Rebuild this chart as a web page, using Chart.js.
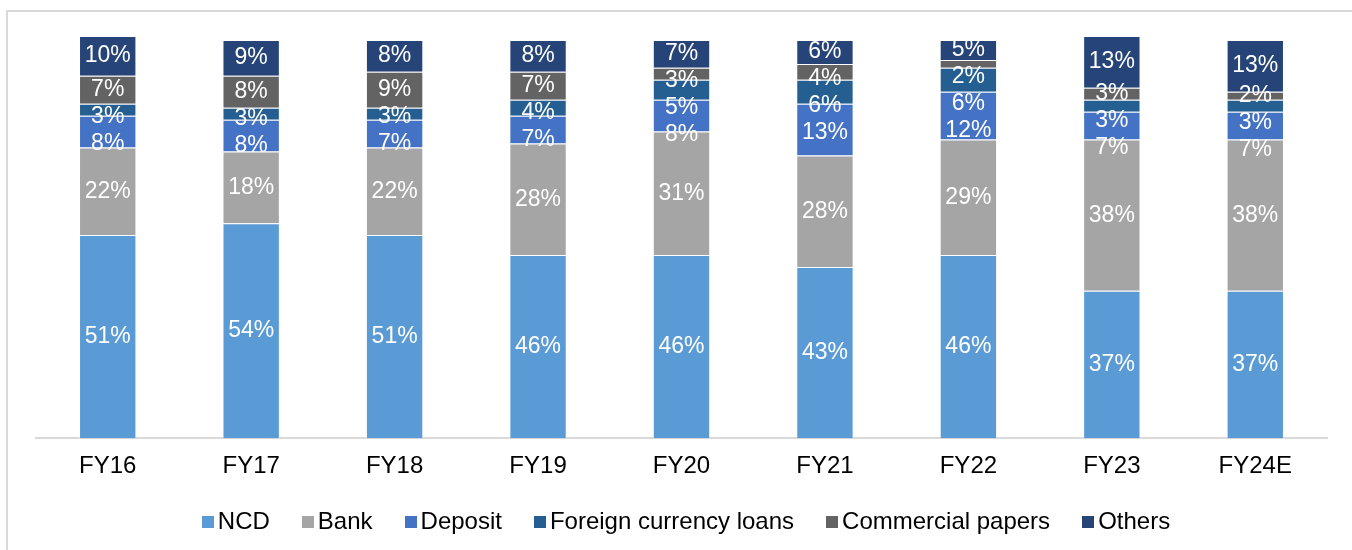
<!DOCTYPE html>
<html>
<head>
<meta charset="utf-8">
<script src="https://cdn.jsdelivr.net/npm/chart.js@4.4.1/dist/chart.umd.min.js"></script>
<style>
  html, body { margin: 0; padding: 0; background: #fff; }
  #wrap { position: relative; width: 1352px; height: 550px; overflow: hidden; }
  #frame { position: absolute; left: 6px; top: 10px; right: -4px; bottom: -4px;
           border-left: 2px solid #d9d9d9; border-top: 2px solid #d9d9d9; }
  #chart { position: absolute; left: 0; top: 0; }
  #legend { position: absolute; left: 20px; right: 0; top: 507px; text-align: center;
            font-family: "Liberation Sans", Arial, sans-serif; font-size: 24px; color: #000;
            white-space: nowrap; }
  #legend span.item { display: inline-block; margin: 0 16px; }
  #legend span.box { display: inline-block; width: 12px; height: 12px; margin-right: 4px;
                     vertical-align: 1px; }
</style>
</head>
<body>
<div id="wrap">
  <div id="frame"></div>
  <canvas id="chart" width="1352" height="550"></canvas>
  <div id="legend"></div>
</div>
<script>
// funding mix by year, share of borrowings (%)
const years = ['FY16', 'FY17', 'FY18', 'FY19', 'FY20', 'FY21', 'FY22', 'FY23', 'FY24E'];
const ncd = [51, 54, 51, 46, 46, 43, 46, 37, 37];
const bank = [22, 18, 22, 28, 31, 28, 29, 38, 38];
const deposit = [8, 8, 7, 7, 8, 13, 12, 7, 7];
const foreignLoans = [3, 3, 3, 4, 5, 6, 6, 3, 3];
const commercialPapers = [7, 8, 9, 7, 3, 4, 2, 3, 2];
const others = [10, 9, 8, 8, 7, 6, 5, 13, 13];

const series = [
  { label: 'NCD', data: ncd, color: '#5b9bd5' },
  { label: 'Bank', data: bank, color: '#a5a5a5' },
  { label: 'Deposit', data: deposit, color: '#4472c4' },
  { label: 'Foreign currency loans', data: foreignLoans, color: '#255e91' },
  { label: 'Commercial papers', data: commercialPapers, color: '#636363' },
  { label: 'Others', data: others, color: '#264478' }
];

const FONT = '"Liberation Sans", Arial, sans-serif';

// white percentage labels, centred in each segment and nudged down when they collide
const segmentLabels = {
  id: 'segmentLabels',
  afterDatasetsDraw(chart) {
    const ctx = chart.ctx;
    const minGap = 27;
    ctx.save();
    ctx.font = '23px ' + FONT;
    ctx.fillStyle = '#fff';
    ctx.textAlign = 'center';
    ctx.textBaseline = 'middle';
    years.forEach((_, i) => {
      const items = [];
      for (let d = chart.data.datasets.length - 1; d >= 0; d--) {
        const bar = chart.getDatasetMeta(d).data[i];
        const v = chart.data.datasets[d].data[i];
        items.push({ x: bar.x, y: (bar.y + bar.base) / 2, text: v + '%' });
      }
      let prev = -Infinity;
      items.forEach(it => {
        if (it.y < prev + minGap) it.y = prev + minGap;
        prev = it.y;
        ctx.fillText(it.text, it.x, it.y);
      });
    });
    ctx.restore();
  }
};

new Chart(document.getElementById('chart'), {
  type: 'bar',
  data: {
    labels: years,
    datasets: series.map(s => ({
      label: s.label,
      data: s.data,
      backgroundColor: s.color,
      borderColor: 'rgba(255,255,255,0.55)',
      borderWidth: 1,
      categoryPercentage: 1,
      barPercentage: 0.4,
      clip: false
    }))
  },
  options: {
    responsive: false,
    animation: false,
    layout: { padding: { left: 36, right: 25, top: 40, bottom: 55 } },
    plugins: {
      legend: { display: false },
      tooltip: { enabled: false }
    },
    scales: {
      x: {
        stacked: true,
        grid: { display: false, drawTicks: false },
        border: { color: '#d9d9d9', width: 2 },
        ticks: { color: '#000', font: { family: FONT, size: 24 }, padding: 14 }
      },
      y: {
        stacked: true,
        display: false,
        min: 0,
        max: 100
      }
    }
  },
  plugins: [segmentLabels]
});

// legend row under the axis
const legend = document.getElementById('legend');
series.forEach(s => {
  const item = document.createElement('span');
  item.className = 'item';
  item.innerHTML = '<span class="box" style="background:' + s.color + '"></span>' + s.label;
  legend.appendChild(item);
});
</script>
</body>
</html>
